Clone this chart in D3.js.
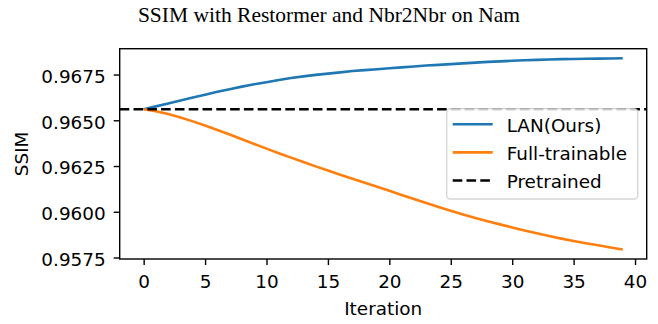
<!DOCTYPE html>
<html>
<head>
<meta charset="utf-8">
<script src="https://cdn.jsdelivr.net/npm/d3@7"></script>
<style>
    body { margin: 0; background: #fff; }
    text { font-family: "DejaVu Sans", sans-serif; fill: #000; }
    .chart-title { font-family: "Liberation Serif", "Times New Roman", serif; font-size: 21.5px; }
    .tick text { font-size: 18.4px; }
    .axis-label { font-size: 18.4px; }
    .legend_text { font-size: 18.4px; }
</style>
</head>
<body>
<svg width="658" height="324"></svg>
<script>
// values
const iterations = d3.range(0, 40);
const lanValues = [
    0.96560, 0.96576, 0.96592, 0.96608, 0.96624, 0.96640, 0.96656, 0.96670, 0.96684, 0.96697,
    0.96708, 0.96720, 0.96731, 0.96740, 0.96748, 0.96755, 0.96762, 0.96769, 0.96774, 0.96779,
    0.96784, 0.96789, 0.96794, 0.96799, 0.96803, 0.96807, 0.96811, 0.96815, 0.96819, 0.96822,
    0.96825, 0.96828, 0.96830, 0.96832, 0.96834, 0.96835, 0.96836, 0.96837, 0.96838, 0.96839
];
const fullValues = [
    0.96560, 0.96549, 0.96534, 0.96515, 0.96494, 0.96471, 0.96447, 0.96422, 0.96396, 0.96370,
    0.96345, 0.96320, 0.96296, 0.96272, 0.96248, 0.96225, 0.96202, 0.96180, 0.96158, 0.96137,
    0.96115, 0.96092, 0.96070, 0.96048, 0.96026, 0.96005, 0.95985, 0.95966, 0.95948, 0.95931,
    0.95914, 0.95898, 0.95883, 0.95867, 0.95853, 0.95840, 0.95828, 0.95817, 0.95805, 0.95794
];
const pretrainedValue = 0.96560;
const xTicks = [0, 5, 10, 15, 20, 25, 30, 35, 40];
const yTicks = [0.9575, 0.9600, 0.9625, 0.9650, 0.9675];
const seriesNames = ['LAN(Ours)', 'Full-trainable', 'Pretrained'];
const seriesColors = ['#1f77b4', '#ff7f0e', '#000000'];
const chartTitle = 'SSIM with Restormer and Nbr2Nbr on Nam';

const svg = d3.select('svg');
const width = +svg.attr('width');

const plot = { left: 119.7, right: 646.7, top: 48.7, bottom: 259 };

// matplotlib style 5% margins
const pad = (lo, hi) => [lo - (hi - lo) * 0.05, hi + (hi - lo) * 0.05];
const allY = lanValues.concat(fullValues);

const x = d3.scaleLinear()
    .domain(pad(d3.min(iterations), d3.max(iterations)))
    .range([plot.left, plot.right]);

const y = d3.scaleLinear()
    .domain(pad(d3.min(allY), d3.max(allY)))
    .range([plot.bottom, plot.top]);

const render = () => {
    const lineGen = d3.line()
        .x((d, i) => x(iterations[i]))
        .y(d => y(d));

    svg.append('path')
        .datum(lanValues)
        .attr('d', lineGen)
        .attr('fill', 'none')
        .attr('stroke', seriesColors[0])
        .attr('stroke-width', 2.6);

    svg.append('path')
        .datum(fullValues)
        .attr('d', lineGen)
        .attr('fill', 'none')
        .attr('stroke', seriesColors[1])
        .attr('stroke-width', 2.6);

    // horizontal reference line across the whole axes
    svg.append('line')
        .attr('x1', plot.left).attr('x2', plot.right)
        .attr('y1', y(pretrainedValue)).attr('y2', y(pretrainedValue))
        .attr('stroke', seriesColors[2])
        .attr('stroke-width', 2.6)
        .attr('stroke-dasharray', '9.6,4.2');

    // axes
    const xAxis = svg.append('g')
        .attr('transform', `translate(0,${plot.bottom})`)
        .call(d3.axisBottom(x).tickValues(xTicks).tickSize(6).tickPadding(10).tickSizeOuter(0));

    const yAxis = svg.append('g')
        .attr('transform', `translate(${plot.left},0)`)
        .call(d3.axisLeft(y).tickValues(yTicks).tickFormat(d3.format('.4f')).tickSize(6).tickPadding(8).tickSizeOuter(0));

    [xAxis, yAxis].forEach(g => {
        g.select('.domain').remove();
        g.selectAll('.tick line').attr('stroke', '#000').attr('stroke-width', 1.4);
        g.selectAll('.tick text').attr('fill', '#000').attr('font-family', null).attr('font-size', null);
    });
    yAxis.selectAll('.tick text').attr('dy', '0.42em');

    // frame
    svg.append('rect')
        .attr('x', plot.left).attr('y', plot.top)
        .attr('width', plot.right - plot.left)
        .attr('height', plot.bottom - plot.top)
        .attr('fill', 'none')
        .attr('stroke', '#000')
        .attr('stroke-width', 1.4);

    svg.append('text')
        .attr('class', 'axis-label')
        .attr('x', (plot.left + plot.right) / 2)
        .attr('y', 315)
        .attr('text-anchor', 'middle')
        .text('Iteration');

    svg.append('text')
        .attr('class', 'axis-label')
        .attr('transform', `translate(28,${(plot.top + plot.bottom) / 2}) rotate(-90)`)
        .attr('text-anchor', 'middle')
        .text('SSIM');

    // legend
    const legendBox = svg.append('g').attr('transform', 'translate(446.7,108.7)');
    legendBox.append('rect')
        .attr('width', 191).attr('height', 90.3)
        .attr('rx', 3.5)
        .attr('fill', '#fff').attr('fill-opacity', 0.8)
        .attr('stroke', '#cccccc').attr('stroke-opacity', 0.8)
        .attr('stroke-width', 1.4);

    const legend = legendBox.selectAll('.legends').data(seriesNames)
        .enter().append('g').classed('legends', true)
        .attr('transform', (d, i) => `translate(0,${15.6 + i * 28.1})`);

    legend.append('line')
        .attr('x1', 6).attr('x2', 46)
        .attr('stroke', (d, i) => seriesColors[i])
        .attr('stroke-width', 2.6)
        .attr('stroke-dasharray', (d, i) => i === 2 ? '9.6,4.2' : null);

    legend.append('text')
        .attr('class', 'legend_text')
        .attr('x', 60)
        .attr('y', 7.2)
        .text(d => d);

    svg.append('text')
        .attr('class', 'chart-title')
        .attr('x', width / 2)
        .attr('y', 22)
        .attr('text-anchor', 'middle')
        .text(chartTitle);
};

render();
</script>
</body>
</html>
